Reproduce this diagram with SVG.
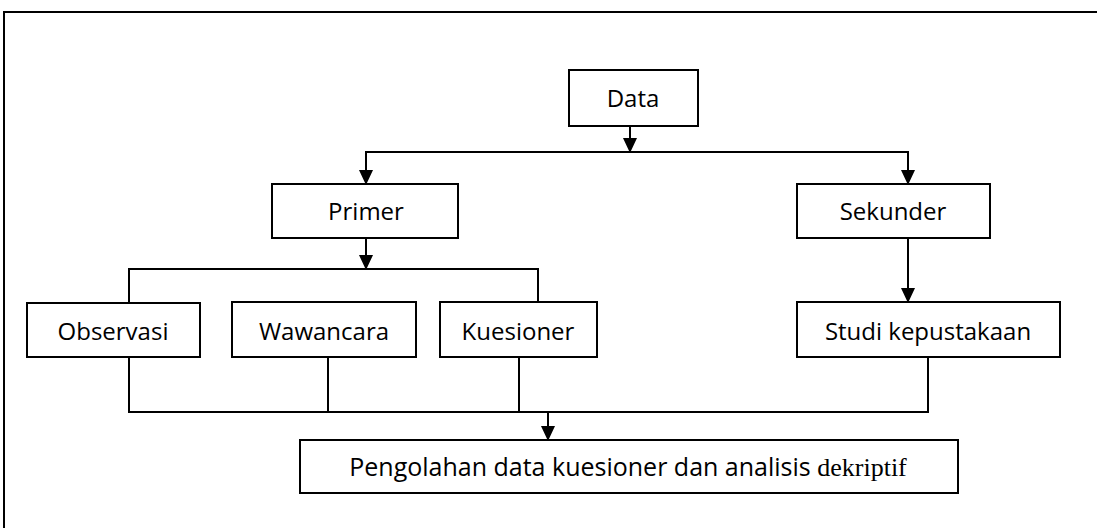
<svg xmlns="http://www.w3.org/2000/svg" width="1097" height="528" viewBox="0 0 1097 528">
<style>
.box{fill:#fff;stroke:#000;stroke-width:2}
.ln{fill:none;stroke:#000;stroke-width:2}
.t{font-family:"Open Sans","Noto Sans","Liberation Sans",sans-serif;font-size:24px;fill:#000;text-anchor:middle}
.big{font-size:25px}
.s{font-family:"Liberation Serif",serif;font-size:26px}
</style>
<rect x="0" y="0" width="1097" height="528" fill="#fff"/>
<g id="frame"><path class="ln" d="M4,528 L4,12 L1097,12"/></g>
<g id="connectors">
<line class="ln" x1="630" y1="126" x2="630" y2="140"/>
<path class="ln" d="M366,172 L366,152 L908,152 L908,172"/>
<line class="ln" x1="366" y1="238" x2="366" y2="257"/>
<path class="ln" d="M129,303 L129,269 L538,269 L538,302"/>
<line class="ln" x1="908" y1="238" x2="908" y2="290"/>
<path class="ln" d="M129,357 L129,412 L928,412 L928,357"/>
<line class="ln" x1="328" y1="357" x2="328" y2="412"/>
<line class="ln" x1="519" y1="357" x2="519" y2="412"/>
<line class="ln" x1="548" y1="412" x2="548" y2="428"/>
<path d="M623,138 L637,138 L630,153 Z"/>
<path d="M359,170 L373,170 L366,185 Z"/>
<path d="M901,170 L915,170 L908,185 Z"/>
<path d="M359,255 L373,255 L366,270 Z"/>
<path d="M901,288 L915,288 L908,303 Z"/>
<path d="M541,426 L555,426 L548,441 Z"/>
</g>
<g id="data"><rect class="box" x="569" y="70" width="129" height="56"/><text class="t" x="633" y="107">Data</text></g>
<g id="primer"><rect class="box" x="272" y="184" width="186" height="54"/><text class="t" x="366" y="220">Primer</text></g>
<g id="sekunder"><rect class="box" x="797" y="184" width="193" height="54"/><text class="t" x="893" y="220">Sekunder</text></g>
<g id="observasi"><rect class="box" x="27" y="303" width="173" height="54"/><text class="t" x="113" y="340">Observasi</text></g>
<g id="wawancara"><rect class="box" x="232" y="302" width="184" height="55"/><text class="t" x="324" y="340">Wawancara</text></g>
<g id="kuesioner"><rect class="box" x="440" y="302" width="157" height="55"/><text class="t" x="518" y="340">Kuesioner</text></g>
<g id="studi"><rect class="box" x="797" y="302" width="263" height="55"/><text class="t" x="928" y="340">Studi kepustakaan</text></g>
<g id="hasil"><rect class="box" x="300" y="440" width="658" height="53"/><text class="t big" x="628" y="476">Pengolahan data kuesioner dan analisis <tspan class="s">dekriptif</tspan></text></g>
</svg>
